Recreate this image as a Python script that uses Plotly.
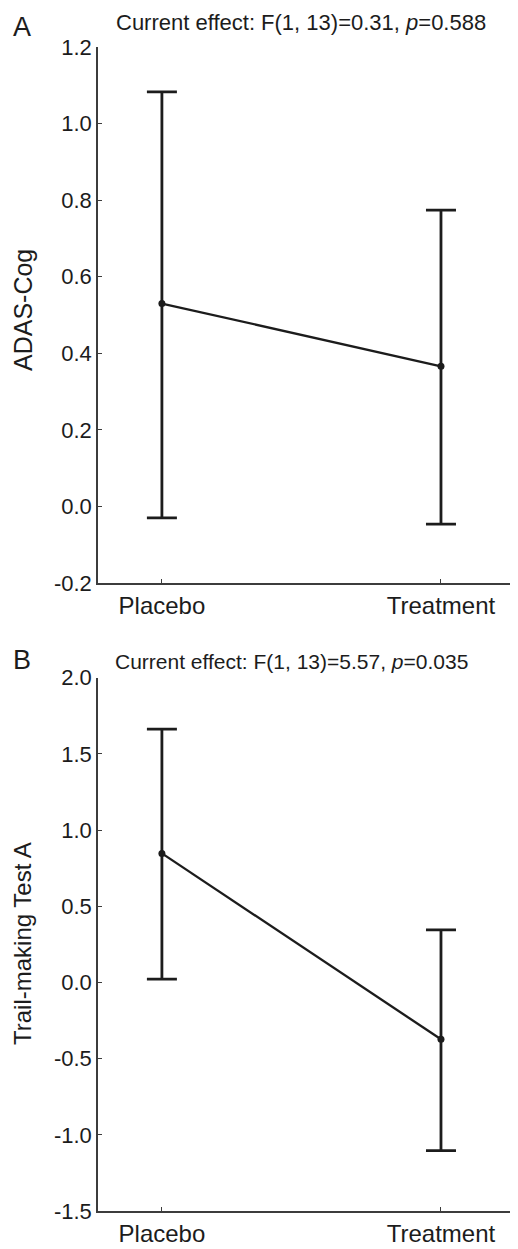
import plotly.graph_objects as go

# ---- data ----
groups = ["Placebo", "Treatment"]

adas_mean = [0.53, 0.366]
adas_upper = [1.083, 0.774]
adas_lower = [-0.030, -0.046]

tmt_mean = [0.847, -0.373]
tmt_upper = [1.663, 0.345]
tmt_lower = [0.022, -1.104]

title_a = "Current effect: F(1, 13)=0.31, <i>p</i>=0.588"
title_b = "Current effect: F(1, 13)=5.57, <i>p</i>=0.035"
ylabel_a = "ADAS-Cog"
ylabel_b = "Trail-making Test A"

yticks_a = [-0.2, 0.0, 0.2, 0.4, 0.6, 0.8, 1.0, 1.2]
yticklabels_a = ["-0.2", "0.0", "0.2", "0.4", "0.6", "0.8", "1.0", "1.2"]
yticks_b = [-1.5, -1.0, -0.5, 0.0, 0.5, 1.0, 1.5, 2.0]
yticklabels_b = ["-1.5", "-1.0", "-0.5", "0.0", "0.5", "1.0", "1.5", "2.0"]

# page body has an 8px default margin; figure fills the rest of the window
OFF = 8
W, H = 518 - OFF, 1249 - OFF
FONT = "Liberation Sans, Arial, sans-serif"
INK = "#1c1c1c"
AXC = "#3c3c3c"

def px_x(p):
    return (p - OFF) / W

def px_y(p):
    return 1 - (p - OFF) / H

fig = go.Figure()

def add_series(mean, upper, lower, xa, ya):
    fig.add_trace(go.Scatter(
        x=[0, 1], y=mean, xaxis=xa, yaxis=ya,
        mode="lines+markers",
        line=dict(color=INK, width=2.3),
        marker=dict(color=INK, size=7),
        error_y=dict(type="data", symmetric=False,
                     array=[u - m for u, m in zip(upper, mean)],
                     arrayminus=[m - l for m, l in zip(mean, lower)],
                     color=INK, thickness=2.8, width=15),
        showlegend=False, hoverinfo="skip",
    ))

add_series(adas_mean, adas_upper, adas_lower, "x", "y")
add_series(tmt_mean, tmt_upper, tmt_lower, "x2", "y2")

xcommon = dict(
    tickmode="array", tickvals=[0, 1], ticktext=groups,
    range=[-0.229, 1.276],
    showline=True, linecolor=AXC, linewidth=1.5,
    ticks="inside", ticklen=4, tickwidth=1.2, tickcolor=AXC,
    showgrid=False, zeroline=False, automargin=False,
    tickfont=dict(family=FONT, size=24, color=INK),
    domain=[px_x(98), 1.0],
)
ycommon = dict(
    tickmode="array",
    showline=True, linecolor=AXC, linewidth=1.5,
    ticks="inside", ticklen=4, tickwidth=1.2, tickcolor=AXC,
    showgrid=False, zeroline=False, automargin=False,
    tickfont=dict(family=FONT, size=22, color=INK),
)

fig.update_layout(
    width=W, height=H,
    margin=dict(l=0, r=0, t=0, b=0),
    paper_bgcolor="white", plot_bgcolor="white",
    xaxis=dict(**xcommon, anchor="y"),
    yaxis=dict(**ycommon, anchor="x", range=[-0.2, 1.2],
               tickvals=yticks_a, ticktext=yticklabels_a,
               domain=[px_y(583), px_y(47)]),
    xaxis2=dict(**xcommon, anchor="y2"),
    yaxis2=dict(**ycommon, anchor="x2", range=[-1.5, 2.0],
                tickvals=yticks_b, ticktext=yticklabels_b,
                domain=[px_y(1211), px_y(677.7)]),
)

annots = [
    dict(text=title_a, x=301, y=22, size=22, angle=0),
    dict(text=title_b, x=291, y=661, size=21, angle=0),
    dict(text="A", x=22, y=27, size=27, angle=0),
    dict(text="B", x=22, y=660, size=27, angle=0),
    dict(text=ylabel_a, x=23, y=310, size=25, angle=-90),
    dict(text=ylabel_b, x=22, y=944, size=24, angle=-90),
]
for a in annots:
    fig.add_annotation(text=a["text"], x=px_x(a["x"]), y=px_y(a["y"]),
                       xref="paper", yref="paper",
                       xanchor="center", yanchor="middle",
                       textangle=a["angle"],
                       showarrow=False,
                       font=dict(family=FONT, size=a["size"], color=INK))

fig.write_html("out.html")
